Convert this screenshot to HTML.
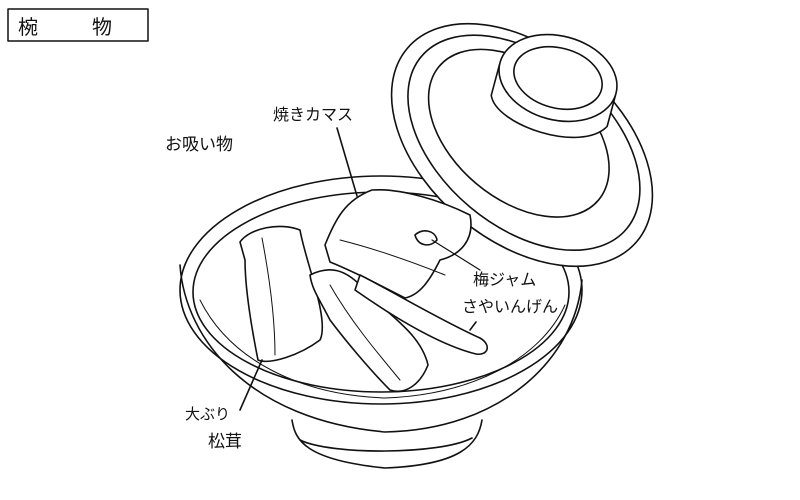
<!DOCTYPE html>
<html><head><meta charset="utf-8"><style>
html,body{margin:0;padding:0;background:#fff}
svg{display:block}
text{font-family:"Liberation Sans","Noto Sans CJK JP",sans-serif;fill:#111}
</style></head><body>
<svg width="800" height="500" viewBox="0 0 800 500" xmlns="http://www.w3.org/2000/svg" fill="none" stroke="#111" stroke-width="1.6" stroke-linecap="round" stroke-linejoin="round">
<rect x="8" y="9" width="140" height="32" stroke-width="1.5"/>
<text x="18" y="34" font-size="20" stroke="none">椀</text>
<text x="92" y="34" font-size="20" stroke="none">物</text>
<text x="165" y="150" font-size="17" stroke="none">お吸い物</text>
<text x="273" y="120" font-size="16" stroke="none">焼きカマス</text>
<text x="473" y="285" font-size="16" stroke="none">梅ジャム</text>
<text x="462" y="312" font-size="16" stroke="none">さやいんげん</text>
<text x="185" y="419" font-size="15" stroke="none">大ぶり</text>
<text x="208" y="447" font-size="17" stroke="none">松茸</text>
<!-- foot -->
<path d="M292 420 C295 440 305 460 385 468 C460 465 478 445 482 420"/>
<path d="M300 440 C330 455 440 455 472 438"/>
<!-- bowl body -->
<path d="M180 265 C185 340 250 420 385 432 C500 430 575 360 582 280"/>
<ellipse cx="381" cy="290" rx="201" ry="114"/>
<ellipse cx="381" cy="292" rx="188" ry="100"/>
<path d="M200 300 C230 360 300 395 385 398 C470 395 540 360 565 305" stroke-width="1"/>
<!-- mushroom left -->
<path d="M240 242 C250 228 280 222 300 230 C305 260 330 320 320 340 C300 355 270 365 258 360 C252 330 245 290 245 260 Z" fill="#fff"/>
<path d="M262 238 C270 280 275 320 275 355" stroke-width="1"/>
<!-- mushroom right -->
<path d="M310 275 C330 265 345 270 360 285 C380 310 420 330 428 365 C420 385 405 395 390 390 C370 370 345 340 330 320 C320 300 312 290 310 275 Z" fill="#fff"/>
<path d="M330 285 C350 320 375 350 400 380" stroke-width="1"/>
<!-- lid -->
<g transform="rotate(40 522 145)">
<ellipse cx="522" cy="145" rx="150" ry="96" fill="#fff"/>
<ellipse cx="522" cy="142" rx="134" ry="84"/>
<ellipse cx="512" cy="138" rx="104" ry="66"/>
</g>
<g transform="rotate(15 558 78)">
<path d="M498 80 L498 112 C510 140 600 145 618 112 L618 80" fill="#fff"/>
<ellipse cx="558" cy="78" rx="60" ry="42" fill="#fff"/>
<ellipse cx="558" cy="78" rx="45" ry="30"/>
</g>
<!-- fish -->
<path d="M325 245 C335 220 345 200 372 190 C400 188 440 200 470 215 C475 240 460 255 440 260 C430 280 420 295 405 298 C380 285 350 270 330 262 Z" fill="#fff"/>
<path d="M340 240 C380 250 420 265 445 275" stroke-width="1"/>
<path d="M415 235 C422 228 435 230 437 240 C430 248 418 246 415 235 Z"/>
<!-- bean -->
<path d="M360 275 C390 290 440 320 480 338 C492 345 488 356 476 354 C440 345 395 318 355 290 Z" fill="#fff"/>
<!-- leader lines -->
<path d="M337 128 L357 196"/>
<path d="M432 240 L480 270" stroke-width="1.2"/>
<path d="M476 322 L470 330"/>
<path d="M240 410 L262 360"/>
</svg>
</body></html>
